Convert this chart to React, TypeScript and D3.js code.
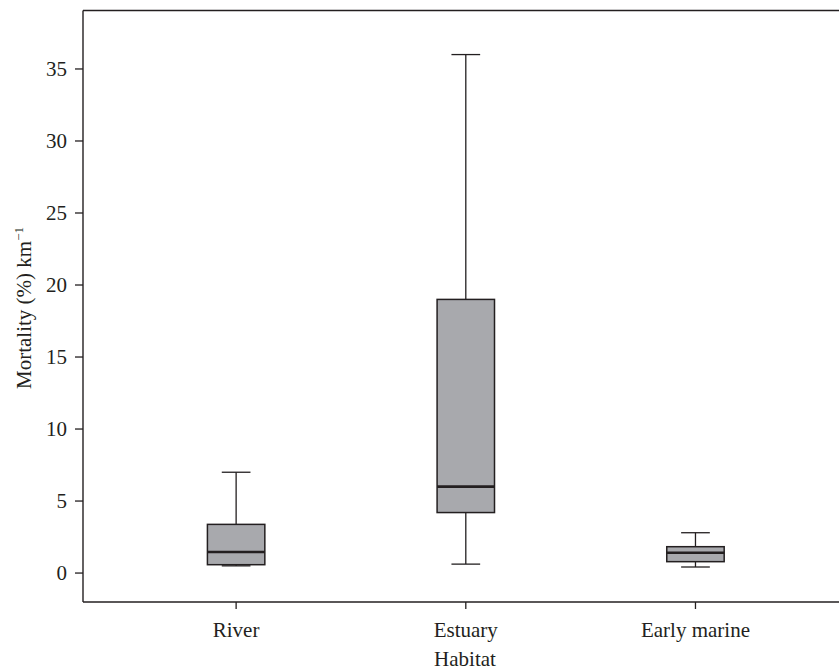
import React from "react";
import * as d3 from "d3";

const habitats = ["River", "Estuary", "Early marine"];
const whiskerLow = [0.5, 0.62, 0.42];
const q1 = [0.58, 4.2, 0.79];
const median = [1.46, 6.0, 1.41];
const q3 = [3.38, 19.0, 1.83];
const whiskerHigh = [7.0, 36.0, 2.8];
const yTicks = [0, 5, 10, 15, 20, 25, 30, 35];

const W = 839;
const H = 671;
const left = 83;
const top = 10.5;
const bottom = 602;
const right = 848.6;
const ink = "#231f20";
const font = "'Liberation Serif', 'Times New Roman', serif";

export default function App() {
  const y = d3.scaleLinear().domain([-2.01, 39.06]).range([bottom, top]);
  const x = d3
    .scaleBand<string>()
    .domain(habitats)
    .range([left, right])
    .paddingInner(0)
    .paddingOuter(0.1667);

  const boxW = x.bandwidth() * 0.25;
  const capW = boxW / 2;

  return (
    <svg
      width={W}
      height={H}
      style={{ position: "absolute", left: 0, top: 0, background: "#fff" }}
      fontFamily={font}
    >
      {/* frame */}
      <g stroke={ink} strokeWidth={1.4} fill="none">
        <line x1={left} x2={right} y1={top} y2={top} />
        <line x1={left} x2={left} y1={top} y2={bottom} />
        <line x1={left} x2={right} y1={bottom} y2={bottom} />
      </g>

      {/* y axis */}
      {yTicks.map((t) => (
        <g key={t} transform={`translate(0,${y(t)})`}>
          <line x1={left - 8} x2={left} stroke={ink} strokeWidth={1.3} />
          <text x={67} dy="0.35em" textAnchor="end" fontSize={21} fill={ink}>
            {t}
          </text>
        </g>
      ))}

      {/* x axis */}
      {habitats.map((h) => {
        const cx = x(h)! + x.bandwidth() / 2;
        return (
          <g key={h}>
            <line x1={cx} x2={cx} y1={bottom} y2={bottom + 7} stroke={ink} strokeWidth={1.3} />
            <text x={cx} y={637} textAnchor="middle" fontSize={21} fill={ink}>
              {h}
            </text>
          </g>
        );
      })}

      {/* boxes */}
      {habitats.map((h, i) => {
        const cx = x(h)! + x.bandwidth() / 2;
        return (
          <g key={h} stroke={ink}>
            <line x1={cx} x2={cx} y1={y(whiskerHigh[i])} y2={y(q3[i])} strokeWidth={1.3} />
            <line x1={cx} x2={cx} y1={y(q1[i])} y2={y(whiskerLow[i])} strokeWidth={1.3} />
            <line
              x1={cx - capW / 2}
              x2={cx + capW / 2}
              y1={y(whiskerHigh[i])}
              y2={y(whiskerHigh[i])}
              strokeWidth={1.3}
            />
            <line
              x1={cx - capW / 2}
              x2={cx + capW / 2}
              y1={y(whiskerLow[i])}
              y2={y(whiskerLow[i])}
              strokeWidth={1.3}
            />
            <rect
              x={cx - boxW / 2}
              y={y(q3[i])}
              width={boxW}
              height={y(q1[i]) - y(q3[i])}
              fill="#a8a9ad"
              strokeWidth={1.5}
            />
            <line
              x1={cx - boxW / 2}
              x2={cx + boxW / 2}
              y1={y(median[i])}
              y2={y(median[i])}
              strokeWidth={2.6}
            />
          </g>
        );
      })}

      {/* axis titles */}
      <text x={465} y={666} textAnchor="middle" fontSize={21} fill={ink}>
        Habitat
      </text>
      <text
        transform="translate(31,308) rotate(-90)"
        textAnchor="middle"
        fontSize={21}
        fill={ink}
      >
        Mortality (%) km
        <tspan dy={-8} fontSize={13}>
          −1
        </tspan>
      </text>
    </svg>
  );
}
